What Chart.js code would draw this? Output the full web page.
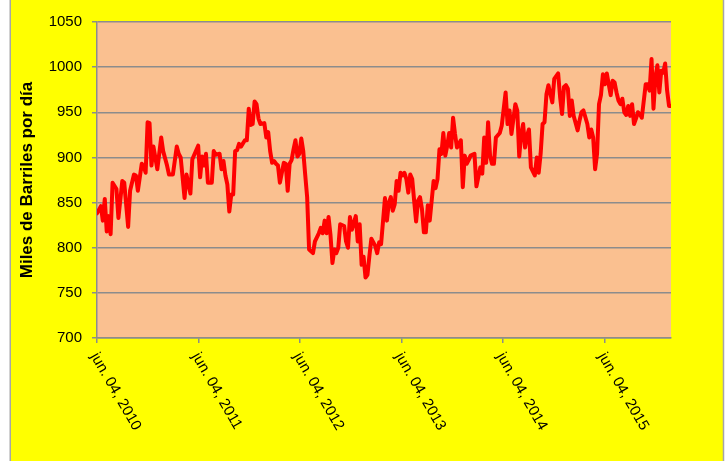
<!DOCTYPE html>
<html>
<head>
<meta charset="utf-8">
<script src="https://cdn.jsdelivr.net/npm/chart.js@4.4.1/dist/chart.umd.min.js"></script>
<style>
  html, body { margin: 0; padding: 0; background: #ffffff; }
  #wrap { width: 728px; height: 461px; }
  canvas { display: block; }
</style>
</head>
<body>
<div id="wrap"><canvas id="c" width="728" height="461"></canvas></div>
<script>
const weeks = [
  0,2,3,4,5,6,7,8,10,11,13,14,16,17,19,20,21,23,24,25,26,27,28,29,31,33,34,36,37,39,
  41,42,43,45,46,48,49,52,53,54,55,56,57,59,60,61,63,64,65,66,67,68,69,70,71,72,73,74,76,77,
  78,79,80,81,82,83,84,86,87,88,89,90,91,92,93,94,96,97,98,99,
  100,101,102,103,104,105,106,107,108,109,111,112,114,115,116,117,118,119,120,121,122,123,124,125,127,128,129,130,131,133,
  134,135,136,137,138,139,140,141,143,144,145,146,148,149,150,151,152,153,154,155,156,157,158,159,160,161,162,163,164,165,
  166,167,168,169,170,171,173,174,175,176,177,178,179,180,181,182,183,184,185,187,188,189,190,191,192,194,195,
  197,198,199,200,201,202,203,204,205,207,208,210,211,212,213,215,216,217,218,219,220,221,222,223,225,226,227,228,229,230,
  231,232,234,235,237,238,239,240,241,242,243,244,245,247,248,249,250,252,253,254,255,256,257,258,259,260,261,262,264,265,
  266,267,268,269,270,271,272,273,274,275,276,277,278,279,280,282,283,284,285,286,287,288,289,290,291,292,293,294,295
];
// Miles de barriles por día
const values = [
  838,846,830,854,818,835,815,872,865,833,874,872,823,863,881,880,863,893,890,883,939,938,891,912,887,922,907,891,881,881,
  912,904,900,855,881,860,898,913,878,901,891,904,872,872,907,903,904,887,896,880,870,840,859,859,907,908,915,912,919,919,
  954,936,937,962,959,943,937,938,922,928,907,894,896,893,891,872,894,893,863,893,
  897,909,919,901,904,921,907,881,856,798,794,807,816,822,816,830,816,834,814,783,798,794,800,826,824,807,800,834,820,835,
  807,826,781,790,767,770,791,810,802,794,806,804,855,830,850,856,841,848,874,863,883,880,883,876,861,881,876,852,829,852,
  856,843,817,817,847,830,874,866,876,909,904,927,902,913,927,911,944,926,911,919,867,902,893,897,902,904,868,
  889,882,922,894,939,902,893,893,922,927,935,972,937,952,926,959,952,901,926,937,911,924,931,889,880,900,883,904,937,939,
  970,980,961,987,993,967,948,978,980,976,946,963,946,930,941,950,952,937,922,931,922,887,904,959,969,992,981,993,969,985,
  983,972,963,959,965,950,947,957,946,959,937,943,950,948,944,981,981,974,1009,954,989,1002,972,996,994,1004,974,957,957
];
// x-axis tick positions (days since jun. 04, 2010) and their labels
const tickDays = [0, 365, 730, 1096, 1461, 1826];
const tickLabels = ['jun. 04, 2010', 'jun. 04, 2011', 'jun. 04, 2012', 'jun. 04, 2013', 'jun. 04, 2014', 'jun. 04, 2015'];
const yTitle = 'Miles de Barriles por día';

const points = weeks.map((w, i) => ({ x: w * 7, y: values[i] }));
const lastDay = weeks[weeks.length - 1] * 7;

const bgPlugin = {
  id: 'bgPlugin',
  beforeDraw(chart) {
    const { ctx, chartArea: a, width, height } = chart;
    ctx.save();
    ctx.fillStyle = '#ffffff';
    ctx.fillRect(0, 0, width, height);
    ctx.fillStyle = '#FFFF00';
    ctx.fillRect(10, 0, 714, height);
    ctx.strokeStyle = '#a6a6a6';
    ctx.lineWidth = 1.5;
    ctx.beginPath();
    ctx.moveTo(10.25, 0); ctx.lineTo(10.25, height);
    ctx.moveTo(723.5, 0); ctx.lineTo(723.5, height);
    ctx.stroke();
    ctx.fillStyle = '#FAC090';
    ctx.fillRect(a.left, a.top, a.right - a.left, a.bottom - a.top);
    ctx.restore();
  },
  afterDraw(chart) {
    const xs = chart.scales.x;
    const ctx = chart.ctx;
    ctx.save();
    ctx.font = '15px "Liberation Sans", Arial, sans-serif';
    ctx.fillStyle = '#000000';
    ctx.textAlign = 'left';
    ctx.textBaseline = 'middle';
    tickDays.forEach((d, i) => {
      const px = xs.getPixelForValue(d);
      ctx.save();
      ctx.translate(px - 3, chart.chartArea.bottom + 16);
      ctx.rotate(Math.PI / 3);
      ctx.fillText(tickLabels[i], 0, 0);
      ctx.restore();
    });
    ctx.restore();
  }
};

new Chart(document.getElementById('c'), {
  type: 'line',
  data: {
    datasets: [{
      data: points,
      borderColor: '#FF0000',
      borderWidth: 4,
      pointRadius: 0,
      pointHoverRadius: 0,
      tension: 0,
      fill: false,
      borderJoinStyle: 'round',
      borderCapStyle: 'round'
    }]
  },
  options: {
    responsive: false,
    animation: false,
    devicePixelRatio: 1,
    layout: { padding: { left: 0, right: 57, top: 22, bottom: 0 } },
    plugins: { legend: { display: false }, tooltip: { enabled: false }, title: { display: false } },
    scales: {
      x: {
        type: 'linear',
        min: 0,
        max: lastDay,
        afterBuildTicks: (axis) => { axis.ticks = tickDays.map(v => ({ value: v })); },
        afterFit: (axis) => { axis.height = 123; },
        ticks: { display: false },
        grid: { drawOnChartArea: false, drawTicks: true, tickLength: 5, color: '#8c8c8c', lineWidth: 1.5 },
        border: { display: true, color: '#8c8c8c', width: 1.5 }
      },
      y: {
        min: 700,
        max: 1050,
        afterFit: (axis) => { axis.width = 97; },
        ticks: {
          stepSize: 50,
          padding: 10,
          color: '#000000',
          font: { family: '"Liberation Sans", Arial, sans-serif', size: 15 },
          callback: (v) => String(v)
        },
        grid: { color: '#8c8c8c', lineWidth: 1.5, tickLength: 5, drawTicks: true },
        border: { display: true, color: '#8c8c8c', width: 1.5 },
        title: {
          display: true,
          text: yTitle,
          color: '#000000',
          font: { family: '"Liberation Sans", Arial, sans-serif', size: 17, weight: 'bold' },
          padding: { top: 17, bottom: 0 }
        }
      }
    }
  },
  plugins: [bgPlugin]
});
</script>
</body>
</html>
